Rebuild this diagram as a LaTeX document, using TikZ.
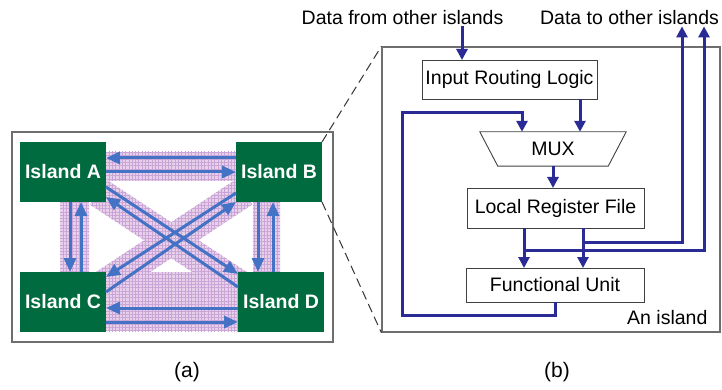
\documentclass[tikz,border=0pt]{standalone}
\usepackage{fontspec}
\setmainfont{Liberation Sans}
\usetikzlibrary{arrows.meta,calc,patterns.meta,backgrounds}
\definecolor{islandgreen}{RGB}{0,107,63}
\definecolor{linkblue}{RGB}{68,114,196}
\definecolor{flownavy}{RGB}{43,43,150}
\definecolor{bandfill}{RGB}{230,208,234}
\definecolor{bandgrid}{RGB}{202,164,214}
\definecolor{framegray}{RGB}{110,110,110}
\tikzset{
  islandbox/.style={fill=islandgreen, text=white, font=\fontsize{19.5}{22}\selectfont\bfseries,
    minimum width=86pt, minimum height=60pt, outer sep=0pt},
  framebox/.style={draw=framegray, line width=1.3pt},
  unitbox/.style={draw=black!75, line width=0.9pt, outer sep=0pt},
  band/.style={fill=bandfill, postaction={pattern={Hatch[angle=0,distance=3.3pt,line width=0.4pt]}, pattern color=bandgrid}},
  link/.style={draw=linkblue, line width=3pt, -{Triangle[length=14pt,width=12pt]}},
  flow/.style={draw=flownavy, line width=3pt, -{Triangle[length=11pt,width=11pt]}},
  zoomline/.style={draw=black!80, line width=1pt, dash pattern=on 9pt off 5pt},
}
\begin{document}
\begin{tikzpicture}[x=1pt, y=-1pt, every node/.style={font=\fontsize{19.5}{22}\selectfont, inner sep=1pt}]
  \useasboundingbox (0,0) rectangle (722,390);

  % Panel (a): the islands
  \node[framebox, minimum width=321pt, minimum height=210pt] (panela) at (172.5,237) {};
  \node[islandbox] (A) at (63,172)  {Island A};
  \node[islandbox] (B) at (279,172) {Island B};
  \node[islandbox] (C) at (63,302)  {Island C};
  \node[islandbox] (D) at (281,302) {Island D};

  % Bands under the links
  \begin{scope}[on background layer]
    \fill[band] ($(A.north east)+(0,10)$) rectangle ($(B.south west)+(0,-21)$);
    \fill[band] ($(C.north east)+(0,0)$) rectangle ($(D.south west)+(0,-1)$);
    \fill[band] ($(A.south)+(-3,0)$) rectangle ($(C.north)+(26,0)$);
    \fill[band] ($(B.south)+(-26,0)$) rectangle ($(D.north)+(-1,0)$);
    \fill[band] (106.25,179.47) -- (258.25,279.47) -- (241.75,304.53) -- (89.75,204.53) -- cycle;
    \fill[band] (235.72,179.49) -- (252.28,204.51) -- (104.28,302.51) -- (87.72,277.49) -- cycle;
  \end{scope}

  % Links between islands
  \draw[link] (A.east) -- (B.west);
  \draw[link] ($(B.west)+(0,-14)$) -- ($(A.east)+(0,-14)$);
  \draw[link] ($(D.west)+(0,6)$) -- ($(C.east)+(0,6)$);
  \draw[link] ($(C.east)+(0,20)$) -- ($(D.west)+(0,20)$);
  \draw[link] ($(A.south)+(7,0)$) -- ($(C.north)+(7,0)$);
  \draw[link] ($(C.north)+(18,0)$) -- ($(A.south)+(18,0)$);
  \draw[link] ($(B.south)+(-21,0)$) -- ($(D.north)+(-23,0)$);
  \draw[link] ($(D.north)+(-8,0)$) -- ($(B.south)+(-6,0)$);
  \draw[link] ($(A.east)+(0,15)$) -- ($(D.north west)+(0,2)$);
  \draw[link] ($(D.west)+(0,-15)$) -- ($(A.south east)+(0,-5)$);
  \draw[link] ($(B.south west)+(0,-9)$) -- ($(C.north east)+(0,5)$);
  \draw[link] ($(C.east)+(0,-10)$) -- (B.south west);

  % Panel (b): inside an island
  \node[framebox, minimum width=338pt, minimum height=285pt] (detail) at (551,189.5) {};
  \node[anchor=base east] (name) at ($(detail.south east)+(-12,-8)$) {An island};
  \node[anchor=base] (from) at (402.5,25) {Data from other islands};
  \node[anchor=base] (to) at (629.5,25) {Data to other islands};
  \node[unitbox, minimum width=175pt, minimum height=39pt] (irl) at (509.5,79.5) {Input Routing Logic};
  \node[minimum width=110pt, minimum height=34pt] (mux) at (553,149) {MUX};
  \draw[draw=black!75, line width=0.9pt] ($(mux.north west)+(-18,0)$) -- ($(mux.north east)+(18,0)$)
    -- (mux.south east) -- (mux.south west) -- cycle;
  \node[unitbox, minimum width=177pt, minimum height=40pt] (lrf) at (555.5,208) {Local Register File};
  \node[unitbox, minimum width=178pt, minimum height=34pt] (fu) at (555,285) {Functional Unit};

  % Zoom lines
  \draw[zoomline] (B.north east) -- (detail.north west);
  \draw[zoomline] (B.south east) -- (detail.south west);

  % Data paths
  \coordinate (inx) at ($(irl.north)+(-47.5,0)$);
  \coordinate (lx) at ($(lrf.south)+(-31.5,0)$);
  \coordinate (rx) at ($(lrf.south)+(27.5,0)$);
  \coordinate (outa) at (682,242);
  \coordinate (outb) at (704,250);
  \coordinate (loop) at (402,113);
  \draw[flow] (inx |- from.south) -- (inx);
  \draw[flow] ($(irl.south)+(70.5,0)$) -- ($(mux.north)+(27,0)$);
  \draw[flow] (mux.south) -- (mux.south |- lrf.north);
  \draw[flow] (lx) -- (lx |- fu.north);
  \draw[flow] (rx) -- (rx |- fu.north);
  \draw[flow] (rx |- outa) -- (outa) -- (outa |- to.south);
  \draw[flow] (lx |- outb) -- (outb) -- (outb |- to.south);
  \draw[flow] (fu.south) -- ++(0,13) -| (loop) -| ($(mux.north)+(-31,0)$);

  % Captions
  \node[font=\fontsize{21}{24}\selectfont] (capa) at (187,372) {(a)};
  \node[font=\fontsize{21}{24}\selectfont] (capb) at (557,372) {(b)};
\end{tikzpicture}
\end{document}
